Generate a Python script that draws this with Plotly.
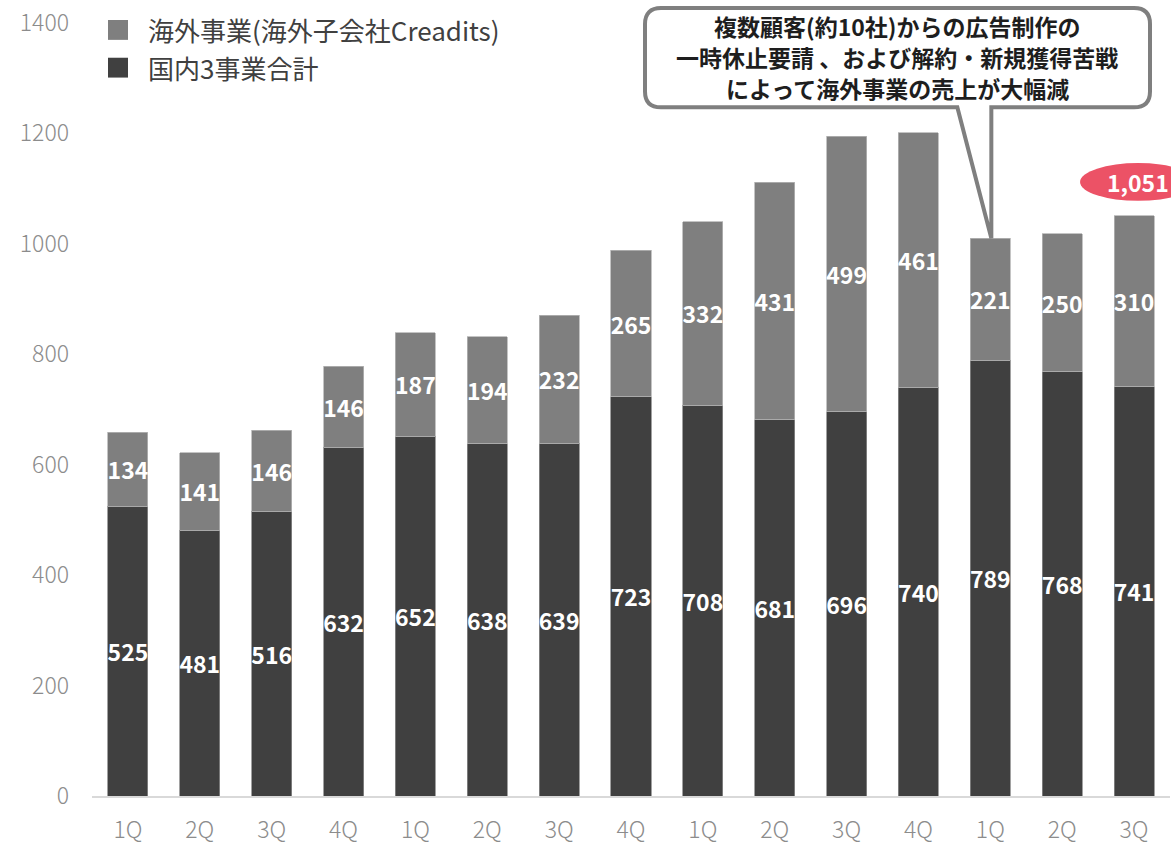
import plotly.graph_objects as go

# Quarterly revenue, stacked: domestic 3 businesses + overseas (Creadits)
quarters = ["1Q", "2Q", "3Q", "4Q", "1Q", "2Q", "3Q", "4Q",
            "1Q", "2Q", "3Q", "4Q", "1Q", "2Q", "3Q"]
domestic = [525, 481, 516, 632, 652, 638, 639, 723, 708, 681, 696, 740, 789, 768, 741]
overseas = [134, 141, 146, 146, 187, 194, 232, 265, 332, 431, 499, 461, 221, 250, 310]
series_names = ["海外事業(海外子会社Creadits)", "国内3事業合計"]
y_ticks = [0, 200, 400, 600, 800, 1000, 1200, 1400]
callout_lines = ["複数顧客(約10社)からの広告制作の",
                 "一時休止要請 、および解約・新規獲得苦戦",
                 "によって海外事業の売上が大幅減"]
callout_index = 12
highlight_index = 14

totals = [d + o for d, o in zip(domestic, overseas)]
xs = list(range(len(quarters)))

W, H = 1171, 846
PL, PR, PT, PB = 92, 1170, 23, 802
YMAX = 1400
FONT = "Noto Sans CJK JP"
C_OVER = "#7f7f7f"
C_DOM = "#404040"


def px(xp):
    return (xp - PL) / (PR - PL)


def py(yp):
    return (PB - yp) / (PB - PT)


def data_px(i):
    return PL + (i + 0.5) * (PR - PL) / len(quarters)


def data_py(v):
    return PB - v * (PB - PT) / YMAX


fig = go.Figure()
label_font = dict(family=FONT, size=23, color="white", weight="bold")
fig.add_trace(go.Bar(
    x=xs, y=domestic, name=series_names[1], marker_color=C_DOM,
    marker_line=dict(color="#8a8a8a", width=0.8),
    text=[str(v) for v in domestic], textposition="inside",
    insidetextanchor="middle", textangle=0, constraintext="none",
    textfont=label_font, showlegend=False, hoverinfo="skip",
))
fig.add_trace(go.Bar(
    x=xs, y=overseas, name=series_names[0], marker_color=C_OVER,
    marker_line=dict(color="#b5b5b5", width=0.8),
    text=[str(v) for v in overseas], textposition="inside",
    insidetextanchor="middle", textangle=0, constraintext="none",
    textfont=label_font, showlegend=False, hoverinfo="skip",
))

shapes = []
annotations = []

# Legend drawn with larger swatches
legend_items = [(series_names[0], C_OVER, 30), (series_names[1], C_DOM, 68)]
for name, color, yc in legend_items:
    shapes.append(dict(type="rect", xref="paper", yref="paper",
                       x0=px(108), x1=px(128), y0=py(yc - 10), y1=py(yc + 10),
                       fillcolor=color, line=dict(width=0)))
    annotations.append(dict(xref="paper", yref="paper", x=px(146), y=py(yc),
                            xanchor="left", yanchor="middle", showarrow=False,
                            text=name, font=dict(family=FONT, size=26, color="#404040")))

# Speech-bubble callout pointing at the top of the chosen bar
bx0, bx1, by0, by1, r = 645, 1150, 8, 108, 16
tip_x = data_px(callout_index) + 1
tip_y = data_py(totals[callout_index])
tail_l, tail_r = tip_x - 34, tip_x


def P(x, y):
    return f"{px(x):.5f},{py(y):.5f}"


path = (f"M {P(bx0 + r, by0)} L {P(bx1 - r, by0)} Q {P(bx1, by0)} {P(bx1, by0 + r)} "
        f"L {P(bx1, by1 - r)} Q {P(bx1, by1)} {P(bx1 - r, by1)} "
        f"L {P(tail_r, by1)} L {P(tip_x, tip_y)} L {P(tail_l, by1)} "
        f"L {P(bx0 + r, by1)} Q {P(bx0, by1)} {P(bx0, by1 - r)} "
        f"L {P(bx0, by0 + r)} Q {P(bx0, by0)} {P(bx0 + r, by0)} Z")
shapes.append(dict(type="path", xref="paper", yref="paper", path=path,
                   fillcolor="white", line=dict(color="#7f7f7f", width=4),
                   layer="above"))
for k, line in enumerate(callout_lines):
    annotations.append(dict(xref="paper", yref="paper", x=px(897), y=py(26.5 + 31 * k),
                            xanchor="center", yanchor="middle", showarrow=False,
                            text=line, font=dict(family=FONT, size=23, color="#1e1e1e",
                                                 weight="bold")))

# Highlighted total above the latest bar
hy = data_py(totals[highlight_index]) - 34
hx = data_px(highlight_index) + 4
shapes.append(dict(type="circle", xref="paper", yref="paper",
                   x0=px(hx - 58), x1=px(hx + 58), y0=py(hy + 19), y1=py(hy - 19),
                   fillcolor="#ec5266", line=dict(width=0), layer="above"))
annotations.append(dict(xref="paper", yref="paper", x=px(hx), y=py(hy),
                        xanchor="center", yanchor="middle", showarrow=False,
                        text=f"{totals[highlight_index]:,}",
                        font=dict(family=FONT, size=23, color="white", weight="bold")))

fig.update_layout(
    width=W, height=H,
    margin=dict(l=PL, r=W - PR, t=PT, b=H - PB),
    barmode="stack", bargap=0.443,
    plot_bgcolor="white", paper_bgcolor="white",
    showlegend=False,
    shapes=shapes, annotations=annotations,
    xaxis=dict(range=[-0.5, len(quarters) - 0.5], tickmode="array",
               tickvals=xs, ticktext=quarters, showgrid=False, zeroline=False,
               showline=True, linecolor="#d9d9d9", linewidth=2, ticks="",
               ticklabelstandoff=12,
               tickfont=dict(family=FONT, size=23, color="#8c8c8c", weight=300)),
    yaxis=dict(range=[0, YMAX], tickmode="array", tickvals=y_ticks,
               showgrid=False, zeroline=False, showline=False, ticks="",
               ticklabelstandoff=22,
               tickfont=dict(family=FONT, size=23, color="#8c8c8c", weight=300)),
)

fig.write_html("out.html")
